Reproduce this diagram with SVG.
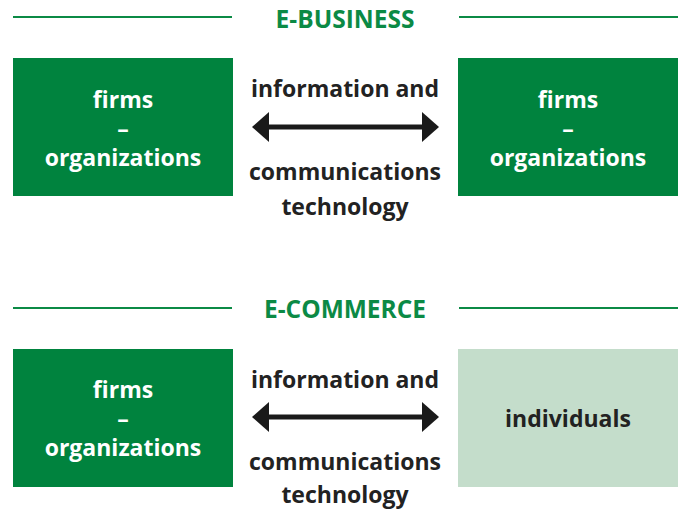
<svg xmlns="http://www.w3.org/2000/svg" width="685" height="510" viewBox="0 0 685 510">
<style>
.rule{stroke:#0b8a45;stroke-width:2}
.title{font-family:"Open Sans","Liberation Sans",sans-serif;font-weight:bold;font-size:24.5px;fill:#0b8a45;text-anchor:middle}
.box{fill:#00833e}
.light{fill:#c4ddcb}
.wt{font-family:"Open Sans","Liberation Sans",sans-serif;font-weight:bold;font-size:23px;fill:#ffffff;text-anchor:middle}
.dt{font-family:"Open Sans","Liberation Sans",sans-serif;font-weight:bold;font-size:23px;fill:#222222;text-anchor:middle}
.conn{stroke:#1a1a1a;stroke-width:5;fill:none;marker-start:url(#ah);marker-end:url(#ah)}
</style>
<defs>
<marker id="ah" markerUnits="userSpaceOnUse" viewBox="0 0 17 30" refX="10" refY="15" markerWidth="17" markerHeight="30" orient="auto-start-reverse">
<path d="M0,0 L17,15 L0,30 Z" fill="#1a1a1a"/>
</marker>
</defs>
<g id="header-ebusiness">
<line class="rule" x1="13" y1="17" x2="232" y2="17"/>
<line class="rule" x1="459" y1="17" x2="678" y2="17"/>
<text class="title" x="345" y="28">E-BUSINESS</text>
</g>
<g id="header-ecommerce">
<line class="rule" x1="13" y1="308" x2="232" y2="308"/>
<line class="rule" x1="459" y1="308" x2="678" y2="308"/>
<text class="title" x="345" y="318">E-COMMERCE</text>
</g>
<g id="node-firms-1">
<rect class="box" x="13" y="58" width="220" height="138"/>
<text class="wt" x="123" y="108">firms</text>
<text class="wt" x="123" y="137">–</text>
<text class="wt" x="123" y="166">organizations</text>
</g>
<g id="node-firms-2">
<rect class="box" x="458" y="58" width="220" height="138"/>
<text class="wt" x="568" y="108">firms</text>
<text class="wt" x="568" y="137">–</text>
<text class="wt" x="568" y="166">organizations</text>
</g>
<g id="node-firms-3">
<rect class="box" x="13" y="349" width="220" height="138"/>
<text class="wt" x="123" y="398">firms</text>
<text class="wt" x="123" y="427">–</text>
<text class="wt" x="123" y="456">organizations</text>
</g>
<g id="node-individuals">
<rect class="light" x="458" y="349" width="220" height="138"/>
<text class="dt" x="568" y="427">individuals</text>
</g>
<g id="connectors">
<line class="conn" x1="259" y1="127" x2="432" y2="127"/>
<text class="dt" x="345" y="97">information and</text>
<text class="dt" x="345" y="180">communications</text>
<text class="dt" x="345" y="215">technology</text>
<line class="conn" x1="259" y1="417" x2="432" y2="417"/>
<text class="dt" x="345" y="388">information and</text>
<text class="dt" x="345" y="470">communications</text>
<text class="dt" x="345" y="503">technology</text>
</g>
</svg>
